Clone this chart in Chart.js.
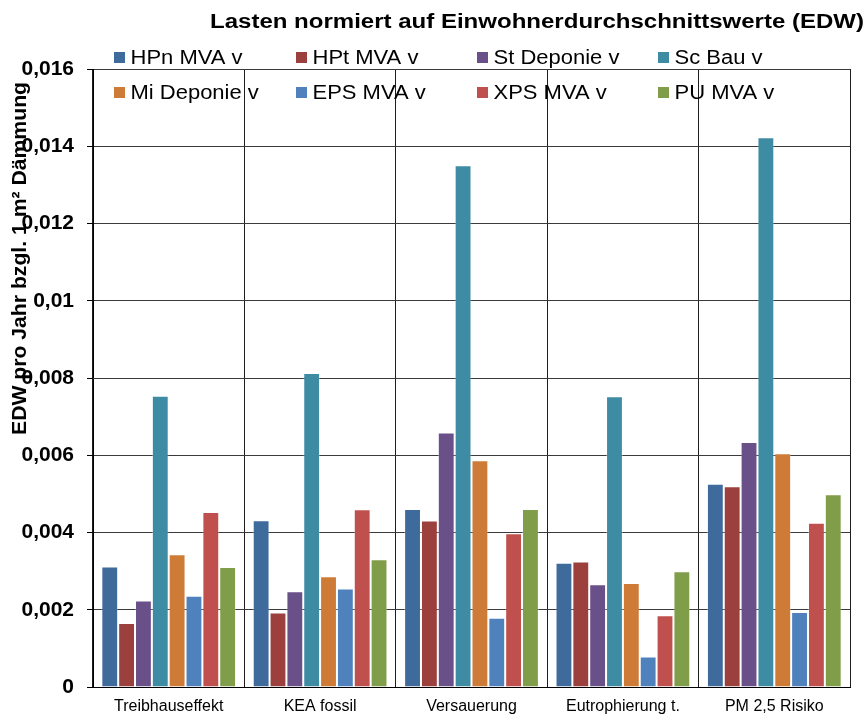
<!DOCTYPE html>
<html>
<head>
<meta charset="utf-8">
<script src="https://cdn.jsdelivr.net/npm/chart.js@4.4.1/dist/chart.umd.min.js"></script>
<style>
  html, body { margin: 0; padding: 0; background: #ffffff; }
  #wrap { position: relative; width: 868px; height: 714px; }
</style>
</head>
<body>
<div id="wrap"><canvas id="c"></canvas></div>
<script>
// ---- data ----
const chartTitle = 'Lasten normiert auf Einwohnerdurchschnittswerte (EDW)';
const yAxisTitle = 'EDW pro Jahr bzgl. 1 m² Dämmung';
const categories = ['Treibhauseffekt', 'KEA fossil', 'Versauerung', 'Eutrophierung t.', 'PM 2,5 Risiko'];
const seriesNames = ['HPn MVA v', 'HPt MVA v', 'St Deponie v', 'Sc Bau v', 'Mi Deponie v', 'EPS MVA v', 'XPS MVA v', 'PU MVA v'];
const HPn_MVA   = [0.00312, 0.00432, 0.00461, 0.00322, 0.00526];
const HPt_MVA   = [0.00166, 0.00193, 0.00431, 0.00325, 0.00520];
const St_Dep    = [0.00224, 0.00248, 0.00659, 0.00266, 0.00634];
const Sc_Bau    = [0.00754, 0.00813, 0.01351, 0.00753, 0.01423];
const Mi_Dep    = [0.00344, 0.00287, 0.00587, 0.00269, 0.00605];
const EPS_MVA   = [0.00236, 0.00255, 0.00179, 0.00079, 0.00194];
const XPS_MVA   = [0.00453, 0.00460, 0.00398, 0.00186, 0.00425];
const PU_MVA    = [0.00311, 0.00331, 0.00461, 0.00300, 0.00499];
const yTickValues = [0, 0.002, 0.004, 0.006, 0.008, 0.010, 0.012, 0.014, 0.016];
const yTickLabels = ['0', '0,002', '0,004', '0,006', '0,008', '0,01', '0,012', '0,014', '0,016'];

// ---- styles ----
const seriesValues = [HPn_MVA, HPt_MVA, St_Dep, Sc_Bau, Mi_Dep, EPS_MVA, XPS_MVA, PU_MVA];
const colors = ['#3F6A9C', '#9C403E', '#6A5088', '#3D8CA4', '#CE7B37', '#4F81BD', '#C0504D', '#809D4A'];
const FONT = '"Liberation Sans", Arial, sans-serif';

const datasets = seriesNames.map((name, i) => ({
  label: name,
  data: seriesValues[i],
  backgroundColor: colors[i],
  borderColor: 'rgba(255,255,255,0.3)',
  borderWidth: 1,
  borderSkipped: 'bottom',
  categoryPercentage: 0.89,
  barPercentage: 1.0
}));

function fitText(ctx, text, x, y, width) {
  const w = ctx.measureText(text).width;
  ctx.save();
  ctx.translate(x, y);
  ctx.scale(width / w, 1);
  ctx.fillText(text, 0, 0);
  ctx.restore();
}

const decorPlugin = {
  id: 'decor',
  afterDraw(chart) {
    const ctx = chart.ctx;
    ctx.save();
    ctx.fillStyle = '#000';
    ctx.textBaseline = 'alphabetic';
    ctx.textAlign = 'left';
    // title
    ctx.font = 'bold 20px ' + FONT;
    fitText(ctx, chartTitle, 210, 28, 654);
    // legend
    const colX = [114, 296, 477, 658];
    const rowTop = [52, 87];
    const rowBase = [64, 99];
    ctx.font = '20px ' + FONT;
    const scaleRef = 112 / ctx.measureText(seriesNames[0]).width;
    chart.data.datasets.forEach((ds, i) => {
      const r = Math.floor(i / 4), c = i % 4;
      ctx.fillStyle = ds.backgroundColor;
      ctx.fillRect(colX[c], rowTop[r], 11, 11);
      ctx.fillStyle = '#000';
      const w = ctx.measureText(ds.label).width * scaleRef;
      fitText(ctx, ds.label, colX[c] + 16.5, rowBase[r], w);
    });
    // y axis title
    ctx.font = 'bold 21px ' + FONT;
    ctx.save();
    ctx.translate(26, 435);
    ctx.rotate(-Math.PI / 2);
    const tw = ctx.measureText(yAxisTitle).width;
    ctx.scale(353 / tw, 1);
    ctx.fillText(yAxisTitle, 0, 0);
    ctx.restore();
    ctx.restore();
  }
};

new Chart(document.getElementById('c'), {
  type: 'bar',
  data: { labels: categories, datasets: datasets },
  plugins: [decorPlugin],
  options: {
    responsive: true,
    maintainAspectRatio: false,
    animation: false,
    devicePixelRatio: 1,
    layout: { padding: { top: 69, right: 18, left: 0, bottom: 0 } },
    plugins: {
      legend: { display: false },
      title: { display: false },
      tooltip: { enabled: false }
    },
    scales: {
      x: {
        afterFit(scale) { scale.height = 27; },
        grid: { offset: true, color: '#1e1e1e', lineWidth: 1, drawTicks: false },
        border: { color: '#000', width: 1 },
        ticks: { color: '#000', font: { family: FONT, size: 16 }, padding: 10, maxRotation: 0, autoSkip: false }
      },
      y: {
        min: 0,
        max: 0.016,
        afterFit(scale) { scale.width = 93; },
        afterBuildTicks(scale) { scale.ticks = yTickValues.map(v => ({ value: v })); },
        grid: { color: '#3a3a3a', lineWidth: 1, drawTicks: true, tickLength: 6, tickColor: '#000' },
        border: { color: '#000', width: 1 },
        ticks: {
          color: '#000',
          font: { family: FONT, size: 21, weight: 'bold' },
          padding: 13,
          callback: (v, i) => yTickLabels[i]
        }
      }
    }
  }
});
</script>
</body>
</html>
